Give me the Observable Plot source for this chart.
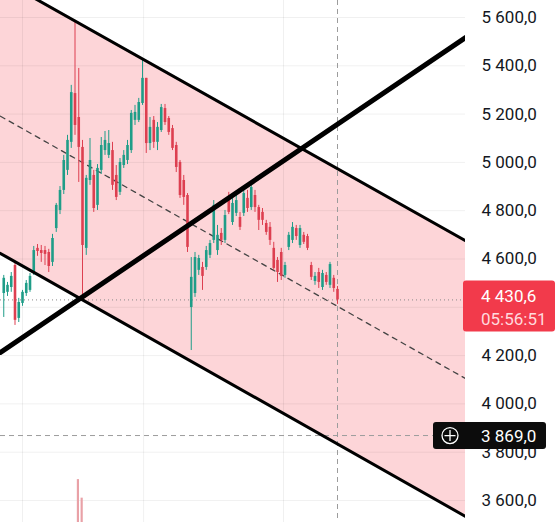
<!DOCTYPE html>
<html><head><meta charset="utf-8">
<script src="https://cdn.jsdelivr.net/npm/d3@7"></script>
<script src="https://cdn.jsdelivr.net/npm/@observablehq/plot@0.6"></script>
<style>html,body{margin:0;padding:0;background:#fff;overflow:hidden}#chart{position:relative}</style>
</head><body><div id="chart"></div>
<script>
// ---- candle data (index = bar number) ----
const opens  = [4457,4462,4482,4573,4354,4416,4457,4470,4544,4644,4635,4635,4627,4586,4726,4801,4884,4967,5083,5285,5186,5062,4644,4925,4946,4822,4967,5049,5029,5049,4946,4876,4987,5008,5049,5174,5174,5244,5348,5078,5174,5083,5132,5223,5182,5140,5070,5000,4925,4863,4399,4457,4553,4565,4565,4615,4677,4635,4706,4677,4842,4751,4789,4772,4789,4851,4813,4863,4813,4793,4747,4731,4644,4594,4627,4532,4648,4677,4726,4656,4698,4693,4573,4507,4544,4482,4532,4491,4520,4474];
const closes = [4520,4491,4528,4346,4420,4462,4499,4528,4635,4631,4623,4619,4569,4685,4822,4884,5008,5091,5289,5153,5062,4656,4934,5008,4809,4975,5070,5091,5078,4905,4855,5000,5029,5070,5203,5207,5248,5348,5078,5145,5083,5145,5227,5165,5124,5058,4979,4863,4855,4648,4524,4606,4602,4528,4635,4664,4822,4698,4677,4780,4793,4830,4842,4731,4871,4809,4896,4813,4760,4760,4710,4677,4561,4544,4528,4573,4698,4731,4693,4726,4669,4644,4524,4528,4503,4540,4503,4577,4478,4430.6];
const highs  = [4532,4503,4544,4586,4437,4470,4511,4540,4652,4660,4656,4652,4640,4702,4830,4900,5029,5112,5319,5588,5389,5091,4946,5099,4967,4991,5103,5128,5132,5083,4987,5016,5049,5091,5215,5236,5265,5430,5348,5186,5190,5165,5240,5240,5190,5153,5083,5008,4946,4871,4606,4627,4615,4586,4652,4677,4842,4739,4726,4801,4876,4851,4863,4793,4892,4884,4917,4884,4822,4809,4760,4751,4669,4606,4644,4586,4710,4751,4739,4739,4710,4702,4586,4544,4561,4553,4544,4586,4532,4486];
const lows   = [4358,4445,4462,4325,4337,4404,4445,4462,4532,4611,4586,4573,4544,4569,4710,4784,4867,4946,5058,5112,4917,4441,4615,4905,4793,4801,4950,5029,5016,4884,4842,4863,4975,4991,5037,5153,5165,5236,5037,5049,5058,5049,5124,5153,5112,5049,4958,4851,4822,4627,4221,4441,4532,4470,4553,4602,4664,4615,4656,4664,4784,4739,4776,4718,4776,4793,4801,4793,4718,4739,4698,4656,4553,4503,4511,4520,4635,4664,4677,4644,4660,4635,4511,4491,4478,4470,4491,4478,4462,4412];
const volIdx = [20, 21];
const volValues = [1850, 1050];

// ---- drawing tools (values at the two ends of the visible bar range) ----
const xEnds = [-0.867, 123.133];
const channelUpper = [5759, 4676];
const channelLower = [4623, 3534];
const trendLine = [4213, 5517];

// ---- axis / labels ----
const gridTicks = [3600,3800,4000,4200,4400,4600,4800,5000,5200,5400,5600];
const labelTicks = [3600,3800,4000,4200,4600,4800,5000,5200,5400,5600]; // 4 400,0 is covered by the price label
const gridIdx = [5, 37.3, 74.6];
const yDomain = [3508.9, 5670.4];
const lastPrice = 4430.6;
const lastTimer = "05:56:51";
const crossPrice = 3869.0;
const crossIdx = 89;

const GREEN = "#1f9d88", RED = "#dd3f50";
const candles = opens.map((o, k) => ({i: k, open: o, close: closes[k], high: highs[k], low: lows[k]}));
const color = d => d.close >= d.open ? GREEN : RED;
const bands = [0, 1].map(k => ({x: xEnds[k], lo: channelLower[k], hi: channelUpper[k], mid: (channelLower[k] + channelUpper[k]) / 2, tr: trendLine[k]}));
const volScale = d3.scaleLinear([0, 2000], [yDomain[0], yDomain[0] + 192]);
const vols = volIdx.map((i, k) => ({i, v: volValues[k]}));
const loc = d3.formatLocale({decimal: ",", thousands: " ", grouping: [3]});
const fmt = loc.format(",.1f");

const chart = Plot.plot({
  width: 558, height: 522,
  marginTop: 0, marginBottom: 0, marginLeft: 0, marginRight: 93,
  style: {fontFamily: "Roboto, sans-serif", background: "transparent"},
  x: {domain: xEnds, axis: null},
  y: {domain: yDomain, axis: null},
  marks: [
    Plot.areaY(bands, {x: "x", y1: "lo", y2: "hi", fill: "#fdd5d8", clip: true}),
    Plot.ruleY(gridTicks, {stroke: "#000", strokeOpacity: 0.06}),
    Plot.ruleX(gridIdx, {stroke: "#000", strokeOpacity: 0.06}),
    Plot.rectY(vols, {x1: d => d.i - 0.38, x2: d => d.i + 0.2, y1: yDomain[0], y2: d => volScale(d.v), fill: "#e9a1a7", clip: true}),
    Plot.line(bands, {x: "x", y: "mid", stroke: "#444", strokeWidth: 1.3, strokeDasharray: "5,5", clip: true}),
    Plot.ruleY([lastPrice], {stroke: "#8a8a8a", strokeWidth: 1, strokeDasharray: "1,3"}),
    Plot.ruleX([crossIdx], {stroke: "#9c9c9c", strokeWidth: 1, strokeDasharray: "5,4"}),
    Plot.ruleY([crossPrice], {stroke: "#9c9c9c", strokeWidth: 1, strokeDasharray: "5,4"}),
    Plot.ruleX(candles, {x: "i", y1: "low", y2: "high", stroke: color, strokeWidth: 1, clip: true}),
    Plot.ruleX(candles, {x: "i", y1: "open", y2: "close", stroke: color, strokeWidth: 2.6, clip: true}),
    Plot.line(bands, {x: "x", y: "hi", stroke: "#000", strokeWidth: 3, clip: true}),
    Plot.line(bands, {x: "x", y: "lo", stroke: "#000", strokeWidth: 3, clip: true}),
    Plot.line(bands, {x: "x", y: "tr", stroke: "#000", strokeWidth: 5, clip: true}),
    Plot.axisY(labelTicks, {anchor: "right", tickSize: 0, tickPadding: 16, tickFormat: fmt, fontSize: 17, fill: "#131722", textAnchor: "start"})
  ]
});
document.getElementById("chart").appendChild(chart);

// price labels on the axis, positioned with the chart's own y scale
const ys = chart.scale("y");
const svg = d3.select(chart);
const py = ys.apply(lastPrice);
const g1 = svg.append("g").attr("font-family", "Roboto, sans-serif").attr("font-size", 17).attr("text-anchor", "start");
g1.append("rect").attr("x", 463).attr("y", py - 19).attr("width", 92).attr("height", 51).attr("rx", 3).attr("fill", "#f23a4b");
g1.append("text").attr("x", 481).attr("y", py - 3).attr("dy", "0.35em").attr("fill", "#fff").text(fmt(lastPrice));
g1.append("text").attr("x", 481).attr("y", py + 20).attr("dy", "0.35em").attr("fill", "#ffd9dd").text(lastTimer);
const cy = ys.apply(crossPrice);
const g2 = svg.append("g").attr("font-family", "Roboto, sans-serif").attr("font-size", 17).attr("text-anchor", "start");
g2.append("rect").attr("x", 433).attr("y", cy - 13).attr("width", 113).attr("height", 27).attr("rx", 3).attr("fill", "#0c0c0c");
g2.append("circle").attr("cx", 450).attr("cy", cy + 0.5).attr("r", 8).attr("fill", "none").attr("stroke", "#fff").attr("stroke-width", 1.3);
g2.append("path").attr("d", `M444.5,${cy + 0.5}H455.5M450,${cy - 5}V${cy + 6}`).attr("stroke", "#fff").attr("stroke-width", 1.3);
g2.append("text").attr("x", 481).attr("y", cy + 1).attr("dy", "0.35em").attr("fill", "#fff").text(fmt(crossPrice));
</script>
</body></html>
